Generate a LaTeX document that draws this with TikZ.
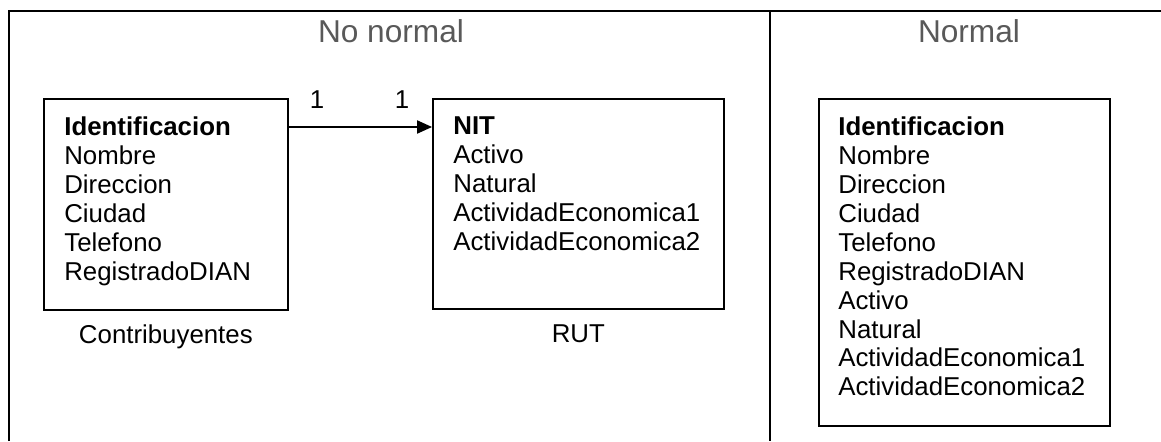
\documentclass[tikz,border=0pt]{standalone}
\usepackage{fontspec}
\setmainfont{Liberation Sans}
\usetikzlibrary{arrows.meta, positioning}
\definecolor{titlegray}{HTML}{595959}

\begin{document}
\begin{tikzpicture}[
    x=0.02cm, y=-0.02cm,
    frame/.style={line width=1.5pt},
    entity/.style={rectangle, draw, line width=1pt, inner sep=0pt, anchor=north west},
    attrs/.style={anchor=north west, inner sep=0pt, align=left, font=\fontsize{14.7}{16.5}\selectfont},
    caption/.style={inner sep=0pt, text height=10.6pt, text depth=3pt, font=\fontsize{14.7}{16.5}\selectfont},
    title/.style={text=titlegray, inner sep=0pt, anchor=base, font=\fontsize{18}{20}\selectfont},
    arrow/.style={-{Triangle[length=8.5pt, width=7.5pt]}, line width=0.8pt},
]
\useasboundingbox (0,0) rectangle (1161,441);

% Frame
\coordinate (tl) at (9,11);
\coordinate (tr) at (1161,11);
\coordinate (bl) at (9,441);
\coordinate (dtop) at (770,11);
\coordinate (dbot) at (770,441);
\draw[frame] (bl) -- (tl) -- (tr);
\draw[frame] (dtop) -- (dbot);

\node[title] (nonormal) at (391,42) {No normal};
\node[title] (normal) at (969,42) {Normal};

% No normal
\node[entity, minimum width=4.88cm, minimum height=4.22cm] (contrib) at (43,98) {};
\node[attrs] (contribattr) at ([shift={(21,18)}]contrib.north west)
    {\textbf{Identificacion}\\Nombre\\Direccion\\Ciudad\\Telefono\\RegistradoDIAN};
\node[caption, below=8pt of contrib] (contribname) {Contribuyentes};

\node[entity, minimum width=5.82cm, minimum height=4.2cm] (rut) at (432,98) {};
\node[attrs] (rutattr) at ([shift={(21,18)}]rut.north west)
    {\textbf{NIT}\\Activo\\Natural\\ActividadEconomica1\\ActividadEconomica2};
\node[caption, below=8pt of rut] (rutname) {RUT};

\draw[arrow] ([yshift=-16.5pt]contrib.north east) -- ([yshift=-16.5pt]rut.north west);
\node[caption, anchor=base] (cardleft) at (317,108) {1};
\node[caption, anchor=base] (cardright) at (402,108) {1};

% Normal
\node[entity, minimum width=5.82cm, minimum height=6.54cm] (merged) at (818,98) {};
\node[attrs] (mergedattr) at ([shift={(20,18)}]merged.north west)
    {\textbf{Identificacion}\\Nombre\\Direccion\\Ciudad\\Telefono\\RegistradoDIAN\\Activo\\Natural\\ActividadEconomica1\\ActividadEconomica2};

\end{tikzpicture}
\end{document}
